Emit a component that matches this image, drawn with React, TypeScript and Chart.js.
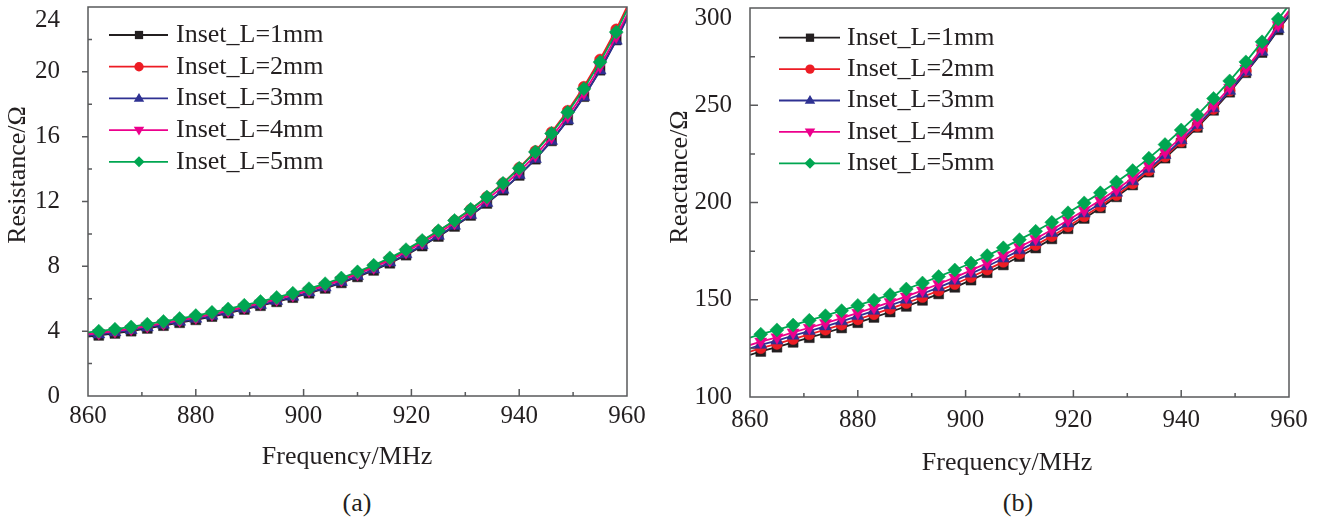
import React, { useEffect, useRef } from 'react';
import { Chart, registerables } from 'chart.js';

Chart.register(...registerables);

// ---------------- data ----------------
const FREQ = [860, 862, 865, 868, 871, 874, 877, 880, 883, 886, 889, 892, 895, 898, 901, 904, 907, 910, 913, 916, 919, 922, 925, 928, 931, 934, 937, 940, 943, 946, 949, 952, 955, 958, 960];

const SERIES_LABELS = ['Inset_L=1mm', 'Inset_L=2mm', 'Inset_L=3mm', 'Inset_L=4mm', 'Inset_L=5mm'];

// Resistance (Ohm)
const RES_1MM = [3.67, 3.74, 3.86, 4.00, 4.17, 4.34, 4.52, 4.70, 4.90, 5.11, 5.34, 5.57, 5.81, 6.07, 6.34, 6.64, 6.98, 7.35, 7.75, 8.19, 8.69, 9.25, 9.84, 10.46, 11.14, 11.88, 12.70, 13.61, 14.61, 15.74, 17.03, 18.47, 20.10, 21.96, 23.35];
const RES_2MM = [3.83, 3.90, 4.02, 4.16, 4.33, 4.50, 4.68, 4.86, 5.06, 5.27, 5.50, 5.73, 5.98, 6.25, 6.53, 6.84, 7.19, 7.58, 8.00, 8.46, 8.98, 9.56, 10.17, 10.81, 11.51, 12.28, 13.13, 14.08, 15.11, 16.27, 17.60, 19.08, 20.76, 22.62, 24.00];
const RES_3MM = [3.73, 3.80, 3.92, 4.06, 4.23, 4.40, 4.58, 4.76, 4.95, 5.16, 5.39, 5.62, 5.86, 6.12, 6.39, 6.69, 7.03, 7.40, 7.80, 8.24, 8.74, 9.30, 9.88, 10.50, 11.17, 11.91, 12.72, 13.63, 14.62, 15.74, 17.02, 18.45, 20.08, 21.92, 23.30];
const RES_4MM = [3.81, 3.88, 4.00, 4.14, 4.31, 4.48, 4.66, 4.84, 5.04, 5.25, 5.48, 5.71, 5.96, 6.22, 6.50, 6.80, 7.15, 7.52, 7.93, 8.38, 8.88, 9.45, 10.04, 10.67, 11.35, 12.10, 12.93, 13.85, 14.85, 15.97, 17.26, 18.70, 20.34, 22.18, 23.52];
const RES_5MM = [3.93, 4.00, 4.12, 4.26, 4.43, 4.60, 4.78, 4.96, 5.16, 5.37, 5.60, 5.83, 6.08, 6.34, 6.62, 6.93, 7.28, 7.66, 8.07, 8.52, 9.03, 9.60, 10.20, 10.83, 11.52, 12.28, 13.12, 14.05, 15.06, 16.20, 17.50, 18.95, 20.60, 22.45, 23.80];

// Reactance (Ohm)
const REA_1MM = [121.6, 123.4, 125.6, 128.1, 130.5, 132.9, 135.5, 138.2, 140.9, 143.7, 146.6, 149.7, 153.0, 156.4, 160.1, 163.9, 167.9, 172.2, 176.6, 181.3, 186.5, 191.8, 197.2, 202.9, 209.0, 215.6, 222.8, 230.6, 238.6, 247.4, 256.7, 266.7, 277.1, 288.8, 295.8];
const REA_2MM = [123.3, 125.1, 127.3, 129.8, 132.2, 134.6, 137.2, 139.9, 142.6, 145.4, 148.3, 151.4, 154.7, 158.1, 161.7, 165.5, 169.5, 173.7, 178.1, 182.7, 187.7, 192.9, 198.2, 203.8, 209.8, 216.4, 223.6, 231.3, 239.3, 248.1, 257.5, 267.6, 278.4, 290.8, 298.2];
const REA_3MM = [125.0, 126.8, 129.0, 131.5, 133.9, 136.3, 138.9, 141.6, 144.3, 147.1, 150.0, 153.1, 156.4, 159.8, 163.4, 167.2, 171.2, 175.4, 179.7, 184.3, 189.2, 194.3, 199.5, 205.0, 210.9, 217.3, 224.4, 232.0, 239.8, 248.4, 257.4, 267.2, 277.5, 289.2, 296.5];
const REA_4MM = [126.7, 128.5, 130.7, 133.2, 135.6, 138.0, 140.6, 143.3, 146.0, 148.8, 151.7, 154.8, 158.1, 161.5, 165.1, 168.9, 172.9, 177.1, 181.4, 186.0, 190.9, 196.0, 201.2, 206.7, 212.6, 219.0, 226.0, 233.5, 241.3, 249.9, 259.0, 268.9, 279.3, 291.2, 298.5];
const REA_5MM = [130.5, 132.3, 134.5, 137.0, 139.4, 141.8, 144.4, 147.1, 149.8, 152.6, 155.5, 158.6, 161.9, 165.3, 168.9, 172.7, 176.7, 180.9, 185.2, 189.8, 194.7, 199.8, 205.0, 210.5, 216.4, 222.8, 229.8, 237.3, 245.0, 253.5, 262.5, 272.3, 282.6, 294.3, 301.5];

const RES_SERIES = [RES_1MM, RES_2MM, RES_3MM, RES_4MM, RES_5MM];
const REA_SERIES = [REA_1MM, REA_2MM, REA_3MM, REA_4MM, REA_5MM];

// ---------------- styles ----------------
const FONT = '"Liberation Serif", "Times New Roman", serif';
const TEXT = '#231f20';
const FRAME = '#58595b';
const COLORS = ['#231f20', '#ed1c24', '#2e3192', '#ec008c', '#00a651'];
const STYLES = ['rect', 'circle', 'triangle', 'triangle', 'rectRot'];
const ROTATIONS = [0, 0, 0, 180, 0];
const RADII = [7, 5.5, 7, 7, 7];
const ORDERS = [4, 3, 2, 1, 0];

function drawMarker(ctx, style, x, y, r, color) {
  ctx.save();
  ctx.fillStyle = color;
  ctx.beginPath();
  if (style === 'rect') {
    const s = r * 0.75;
    ctx.rect(x - s, y - s, 2 * s, 2 * s);
  } else if (style === 'circle') {
    ctx.arc(x, y, r * 0.85, 0, Math.PI * 2);
  } else if (style === 'triangle') {
    ctx.moveTo(x, y - r);
    ctx.lineTo(x + r * 0.95, y + r * 0.6);
    ctx.lineTo(x - r * 0.95, y + r * 0.6);
    ctx.closePath();
  } else if (style === 'triangleDown') {
    ctx.moveTo(x, y + r);
    ctx.lineTo(x + r * 0.95, y - r * 0.6);
    ctx.lineTo(x - r * 0.95, y - r * 0.6);
    ctx.closePath();
  } else {
    ctx.moveTo(x, y - r);
    ctx.lineTo(x + r, y);
    ctx.lineTo(x, y + r);
    ctx.lineTo(x - r, y);
    ctx.closePath();
  }
  ctx.fill();
  ctx.restore();
}

const LEGEND_STYLES = ['rect', 'circle', 'triangle', 'triangleDown', 'diamond'];

function makeDecor(cfg) {
  return {
    id: 'decor',
    afterDatasetsDraw(chart) {
      const { ctx, chartArea: a, scales } = chart;
      ctx.save();
      ctx.strokeStyle = FRAME;
      ctx.lineWidth = 1.5;
      ctx.strokeRect(a.left, a.top, a.right - a.left, a.bottom - a.top);
      // x ticks (inward)
      const xs = scales.x;
      const xt = xs.ticks.map((t) => t.value);
      ctx.beginPath();
      for (let i = 0; i < xt.length; i++) {
        const v = xt[i];
        if (i > 0 && i < xt.length - 1) {
          const p = xs.getPixelForValue(v);
          ctx.moveTo(p, a.bottom);
          ctx.lineTo(p, a.bottom - 7);
        }
        if (i < xt.length - 1) {
          const m = xs.getPixelForValue((v + xt[i + 1]) / 2);
          ctx.moveTo(m, a.bottom);
          ctx.lineTo(m, a.bottom - 4);
        }
      }
      // y ticks
      const ys = scales.y;
      const yt = ys.ticks.map((t) => t.value);
      for (let i = 0; i < yt.length; i++) {
        const v = yt[i];
        if (i > 0 && i < yt.length - 1) {
          const p = ys.getPixelForValue(v);
          ctx.moveTo(a.left, p);
          ctx.lineTo(a.left + cfg.yMajor, p);
        }
        if (i < yt.length - 1) {
          const m = ys.getPixelForValue((v + yt[i + 1]) / 2);
          ctx.moveTo(a.left, m);
          ctx.lineTo(a.left + cfg.yMinor, m);
        }
      }
      ctx.stroke();
      ctx.restore();
    },
    afterDraw(chart) {
      const { ctx } = chart;
      ctx.save();
      // legend
      ctx.font = `26px ${FONT}`;
      ctx.textBaseline = 'middle';
      ctx.textAlign = 'left';
      chart.data.datasets.forEach((ds, i) => {
        const y = cfg.legendTop + i * cfg.legendStep;
        ctx.strokeStyle = COLORS[i];
        ctx.lineWidth = 1.8;
        ctx.beginPath();
        ctx.moveTo(cfg.legendX0, y);
        ctx.lineTo(cfg.legendX1, y);
        ctx.stroke();
        drawMarker(ctx, LEGEND_STYLES[i], cfg.legendMarkX, y, 5.5, COLORS[i]);
        ctx.fillStyle = TEXT;
        ctx.fillText(ds.label, cfg.legendTextX, y);
      });
      // axis titles
      ctx.fillStyle = TEXT;
      ctx.textAlign = 'center';
      ctx.textBaseline = 'middle';
      ctx.fillText(cfg.xTitle, cfg.xTitleX, cfg.xTitleY);
      ctx.translate(cfg.yTitleX, cfg.yTitleY);
      ctx.rotate(-Math.PI / 2);
      ctx.fillText(cfg.yTitle, 0, 0);
      ctx.restore();
    },
  };
}

function buildConfig(p) {
  const last = FREQ.length - 1;
  return {
    type: 'line',
    data: {
      datasets: p.series.map((vals, i) => ({
        label: SERIES_LABELS[i],
        data: FREQ.map((f, k) => ({ x: f, y: vals[k] })),
        borderColor: COLORS[i],
        backgroundColor: COLORS[i],
        borderWidth: 1.8,
        pointStyle: STYLES[i],
        rotation: ROTATIONS[i],
        pointRotation: ROTATIONS[i],
        pointRadius: (c) => (c.dataIndex === 0 || c.dataIndex === last ? 0 : RADII[i]),
        pointBorderWidth: 0.5,
        pointBorderColor: COLORS[i],
        pointBackgroundColor: COLORS[i],
        tension: 0,
        order: ORDERS[i],
      })),
    },
    options: {
      responsive: false,
      animation: false,
      events: [],
      layout: { padding: { left: 0, top: p.top, right: p.right, bottom: 0 } },
      plugins: { legend: { display: false }, tooltip: { enabled: false }, title: { display: false } },
      scales: {
        x: {
          type: 'linear',
          min: 860,
          max: 960,
          grid: { display: false },
          border: { display: false },
          ticks: {
            stepSize: 20,
            autoSkip: false,
            maxRotation: 0,
            padding: p.xPad,
            color: TEXT,
            font: { family: FONT, size: 25, lineHeight: 1.0 },
          },
          afterFit: (s) => {
            s.height = p.xHeight;
            s.paddingLeft = 0;
            s.paddingRight = 0;
          },
        },
        y: {
          type: 'linear',
          min: p.yMin,
          max: p.yMax,
          grid: { display: false },
          border: { display: false },
          ticks: {
            stepSize: p.yStep,
            autoSkip: false,
            padding: p.yPad,
            color: TEXT,
            font: { family: FONT, size: 25, lineHeight: p.yLine },
            callback: (v) => (v === p.yMax ? ['', String(v)] : String(v)),
          },
          afterFit: (s) => {
            s.width = p.yWidth;
            s.paddingTop = 0;
            s.paddingBottom = 0;
          },
        },
      },
    },
    plugins: [makeDecor(p.decor)],
  };
}

function ChartCanvas({ params, left, width, height }) {
  const ref = useRef(null);
  useEffect(() => {
    const chart = new Chart(ref.current, buildConfig(params) as any);
    return () => chart.destroy();
  }, []);
  return (
    <canvas
      ref={ref}
      width={width}
      height={height}
      style={{ position: 'absolute', left, top: 0, width, height }}
    />
  );
}

const LEFT_PARAMS = {
  series: RES_SERIES,
  top: 7,
  right: 33,
  xHeight: 79,
  xPad: 0,
  yWidth: 88,
  yPad: 20,
  yMin: 0,
  yMax: 24,
  yStep: 4,
  yLine: 1.1,
  decor: {
    yMajor: -6,
    yMinor: 4,
    legendTop: 35,
    legendStep: 31.7,
    legendX0: 109,
    legendX1: 168,
    legendMarkX: 139,
    legendTextX: 176,
    xTitle: 'Frequency/MHz',
    xTitleX: 347,
    xTitleY: 457,
    yTitle: 'Resistance/Ω',
    yTitleX: 18.5,
    yTitleY: 175,
  },
};

const RIGHT_PARAMS = {
  series: REA_SERIES,
  top: 8,
  right: 33,
  xHeight: 84,
  xPad: 3,
  yWidth: 90,
  yPad: 10,
  yMin: 100,
  yMax: 300,
  yStep: 50,
  yLine: 0.8,
  decor: {
    yMajor: 8,
    yMinor: 5,
    legendTop: 37.7,
    legendStep: 31.4,
    legendX0: 119,
    legendX1: 180,
    legendMarkX: 150,
    legendTextX: 187,
    xTitle: 'Frequency/MHz',
    xTitleX: 347,
    xTitleY: 463,
    yTitle: 'Reactance/Ω',
    yTitleX: 20.5,
    yTitleY: 177,
  },
};

const captionStyle = {
  position: 'absolute' as const,
  top: 488,
  width: 100,
  textAlign: 'center' as const,
  fontFamily: FONT,
  fontSize: 26,
  lineHeight: '30px',
  color: TEXT,
};

export default function App() {
  return (
    <div style={{ position: 'absolute', left: 0, top: 0, width: 1322, height: 523, background: '#fff', overflow: 'hidden' }}>
      <ChartCanvas params={LEFT_PARAMS} left={0} width={660} height={475} />
      <ChartCanvas params={RIGHT_PARAMS} left={660} width={662} height={481} />
      <div style={{ ...captionStyle, left: 307 }}>(a)</div>
      <div style={{ ...captionStyle, left: 968 }}>(b)</div>
    </div>
  );
}
